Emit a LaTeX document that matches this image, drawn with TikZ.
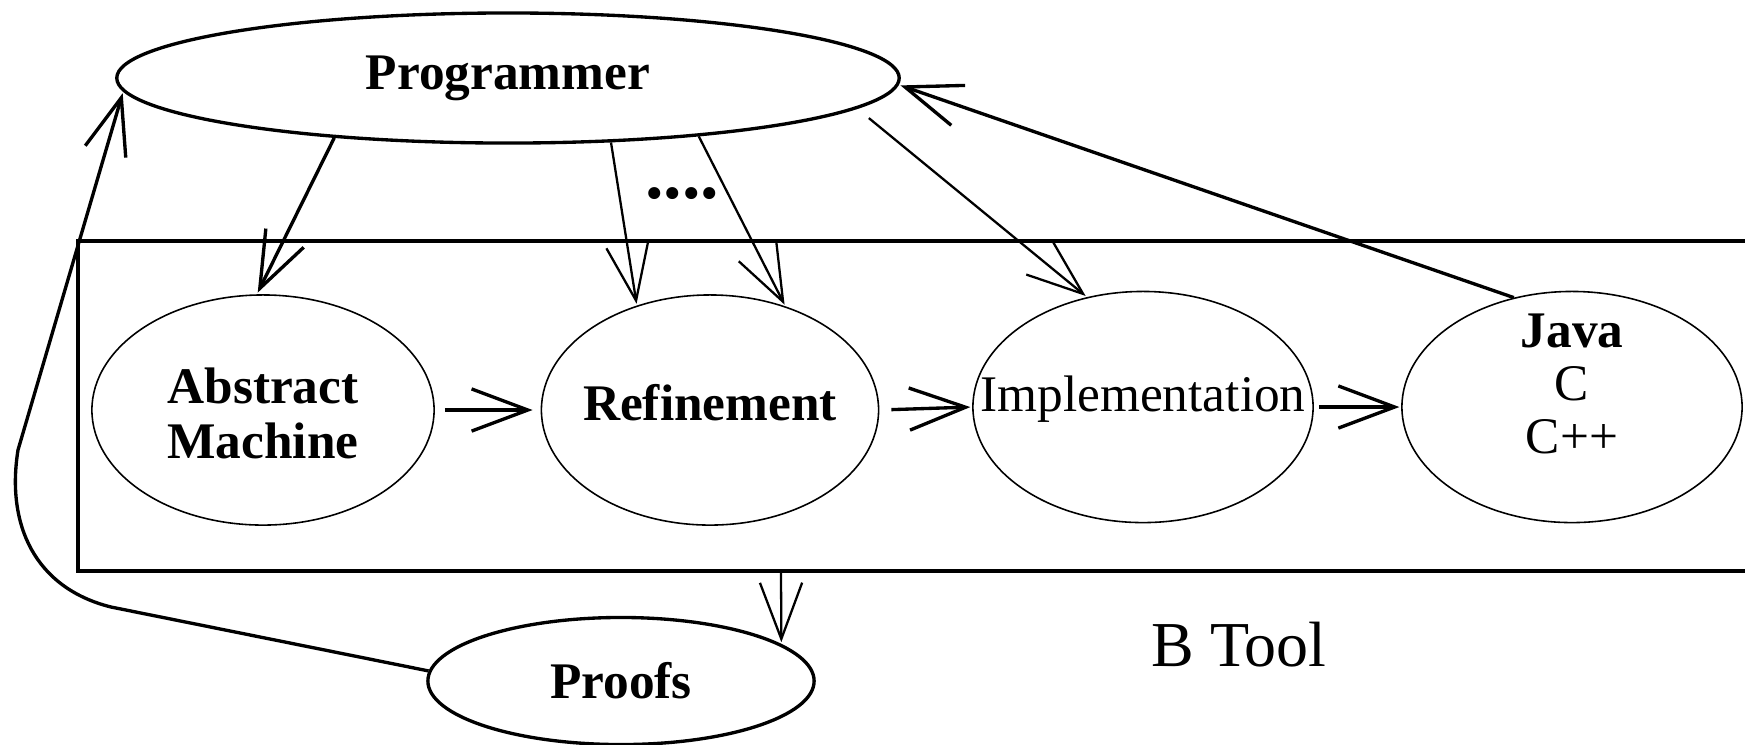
\documentclass[tikz,border=0pt]{standalone}
\usepackage{fontspec}
\setmainfont{Liberation Serif}
\usetikzlibrary{arrows.meta,shapes.geometric}
\tikzset{
  bubble/.style={draw,ellipse,align=center,inner sep=-0.6cm,line width=0.45pt,
    font=\fontsize{14.6}{15}\selectfont},
  heavy/.style={line width=0.95pt},
  link/.style={->,line width=0.95pt,shorten >=0.5pt},
  fine/.style={line width=0.65pt},
  >={Straight Barb[length=16pt,width=12pt]}
}
\newcommand{\lift}[2]{\raisebox{#1}[\height][\depth]{#2}}
\begin{document}
\begin{tikzpicture}[x=0.01cm,y=-0.01cm]
      \useasboundingbox (0,0) rectangle (1745,744);
      \draw[heavy] (1745,241) -- (78,241) -- (78,571) -- (1745,571);
      \coordinate (boxbot) at (781,571);
      \draw
        (508,78) node[bubble,heavy,minimum width=7.82cm,minimum height=1.3cm] (prog){\bfseries Programmer}
        (263,410) node[bubble,minimum width=3.42cm,minimum height=2.3cm] (abs){\lift{-3pt}{\begin{tabular}{@{}c@{}}\bfseries Abstract\\[0.8pt]\bfseries Machine\end{tabular}}}
        (710,410) node[bubble,minimum width=3.37cm,minimum height=2.3cm] (ref){\lift{2pt}{\bfseries Refinement}}
        (1143,407) node[bubble,minimum width=3.4cm,minimum height=2.31cm] (impl){\lift{2.2pt}{Implementation}}
        (1572,407) node[bubble,minimum width=3.4cm,minimum height=2.31cm] (java){\lift{4.8pt}{\begin{tabular}{@{}c@{}}\bfseries Java\\C\\C++\end{tabular}}}
        (621,681) node[bubble,heavy,minimum width=3.86cm,minimum height=1.27cm] (proofs){\bfseries Proofs}
        (682,194) node[font=\fontsize{21}{21}\selectfont\bfseries] (dots){....}
        (1239,645) node[font=\fontsize{18.2}{19}\selectfont] (tool){B Tool};
      \begin{scope}[link]
        \draw (prog.199) to (abs.93);
        \draw[fine] (prog.-32) to (ref.125);
        \draw[fine] (prog.-17) to (ref.54);
        \draw[fine,shorten <=0.15cm] (prog.-5.5) to (impl.117);
        \draw (java.118) to (prog.-1.6);
        \draw[shorten <=0.1cm,shorten >=0.08cm] (abs.east) to (ref.west);
        \draw[shorten <=0.12cm] (ref.east) to (impl.west);
        \draw[shorten <=0.05cm] (impl.east) to (java.west);
        \draw[fine] (boxbot) to (proofs.13);
        \draw (proofs.177) -- (111,607) .. controls (35,588) and (6,525) .. (18,450) -- (prog.182);
      \end{scope}
    \end{tikzpicture}
\end{document}
